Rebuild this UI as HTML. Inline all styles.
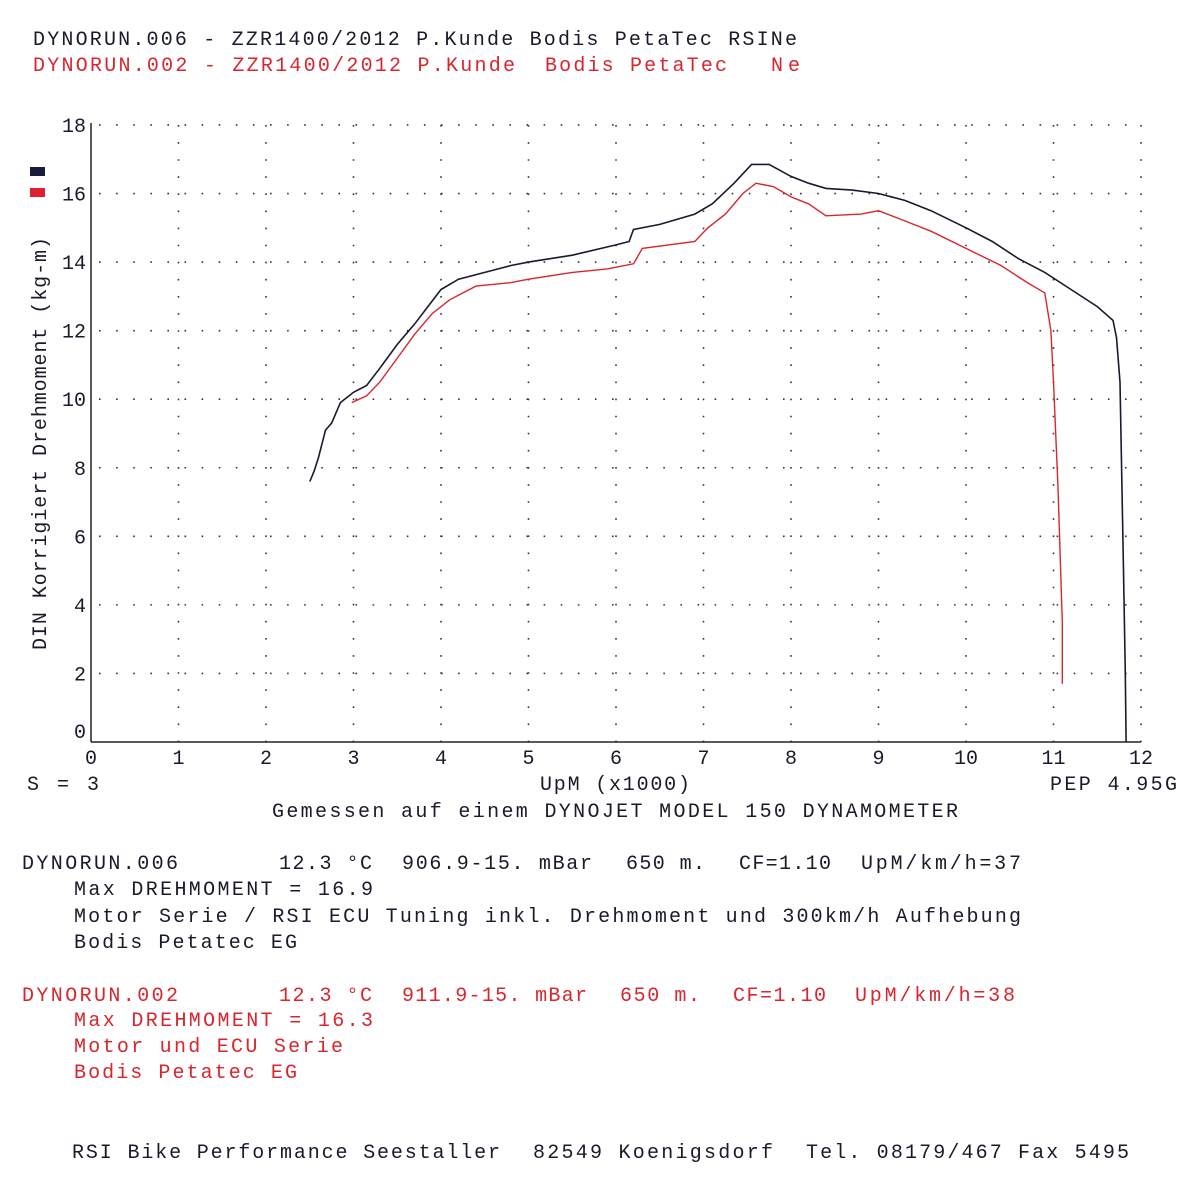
<!DOCTYPE html>
<html><head><meta charset="utf-8"><style>
html,body{margin:0;padding:0;background:#fff;}
svg text{font-family:"Liberation Mono","DejaVu Sans Mono",monospace;font-size:20px;}
.r{fill:#d8262e}.k{fill:#1a1a2a}
</style></head><body>
<svg id="s" width="1200" height="1195" xmlns="http://www.w3.org/2000/svg">
<rect width="1200" height="1195" fill="#fff"/>
<g class="k">
<text x="33" y="45" textLength="764" lengthAdjust="spacing">DYNORUN.006 - ZZR1400/2012 P.Kunde Bodis PetaTec RSINe</text>
</g>
<g class="r">
<text x="33" y="71" textLength="482" lengthAdjust="spacing">DYNORUN.002 - ZZR1400/2012 P.Kunde</text>
<text x="545" y="71" textLength="182" lengthAdjust="spacing">Bodis PetaTec</text>
<text x="771" y="71" textLength="29" lengthAdjust="spacing">Ne</text>
</g>
<g id="grid" stroke="#333" stroke-width="1.6" stroke-dasharray="1.6 15.5" fill="none"></g>
<g stroke="#222" stroke-width="1.5" fill="none">
<line x1="91" y1="123" x2="91" y2="742"/>
<line x1="91" y1="742" x2="1141" y2="742"/>
</g>
<g id="ticks" class="k"></g>
<text class="k" x="40" y="650" transform="rotate(-90 40 650)" textLength="413" lengthAdjust="spacing" dy="6">DIN Korrigiert Drehmoment (kg-m)</text>
<rect x="30" y="167" width="15" height="9" fill="#1a1a3a"/>
<rect x="30" y="188" width="15" height="9" fill="#e02030"/>
<path id="pk" fill="none" stroke="#1a1a2e" stroke-width="1.6"/>
<path id="pr" fill="none" stroke="#d8262e" stroke-width="1.4"/>
<g class="k">
<text x="27" y="790" textLength="72" lengthAdjust="spacing">S = 3</text>
<text x="540" y="790" textLength="150" lengthAdjust="spacing">UpM (x1000)</text>
<text x="1050" y="790" textLength="127" lengthAdjust="spacing">PEP 4.95G</text>
<text x="272" y="817" textLength="686" lengthAdjust="spacing">Gemessen auf einem DYNOJET MODEL 150 DYNAMOMETER</text>
<text x="22" y="869" textLength="156" lengthAdjust="spacing">DYNORUN.006</text>
<text x="279" y="869" textLength="93" lengthAdjust="spacing">12.3 °C</text>
<text x="402" y="869" textLength="190" lengthAdjust="spacing">906.9-15. mBar</text>
<text x="626" y="869" textLength="79" lengthAdjust="spacing">650 m.</text>
<text x="739" y="869" textLength="92" lengthAdjust="spacing">CF=1.10</text>
<text x="861" y="869" textLength="160" lengthAdjust="spacing">UpM/km/h=37</text>
<text x="74" y="895" textLength="299" lengthAdjust="spacing">Max DREHMOMENT = 16.9</text>
<text x="74" y="922" textLength="947" lengthAdjust="spacing">Motor Serie / RSI ECU Tuning inkl. Drehmoment und 300km/h Aufhebung</text>
<text x="74" y="948" textLength="223" lengthAdjust="spacing">Bodis Petatec EG</text>
<text x="72" y="1158" textLength="428" lengthAdjust="spacing">RSI Bike Performance Seestaller</text>
<text x="533" y="1158" textLength="240" lengthAdjust="spacing">82549 Koenigsdorf</text>
<text x="806" y="1158" textLength="323" lengthAdjust="spacing">Tel. 08179/467 Fax 5495</text>
</g>
<g class="r">
<text x="22" y="1001" textLength="156" lengthAdjust="spacing">DYNORUN.002</text>
<text x="279" y="1001" textLength="93" lengthAdjust="spacing">12.3 °C</text>
<text x="402" y="1001" textLength="185" lengthAdjust="spacing">911.9-15. mBar</text>
<text x="620" y="1001" textLength="80" lengthAdjust="spacing">650 m.</text>
<text x="733" y="1001" textLength="93" lengthAdjust="spacing">CF=1.10</text>
<text x="855" y="1001" textLength="160" lengthAdjust="spacing">UpM/km/h=38</text>
<text x="74" y="1026" textLength="299" lengthAdjust="spacing">Max DREHMOMENT = 16.3</text>
<text x="74" y="1052" textLength="269" lengthAdjust="spacing">Motor und ECU Serie</text>
<text x="74" y="1078" textLength="223" lengthAdjust="spacing">Bodis Petatec EG</text>
</g>
</svg>
<script>
var NS="http://www.w3.org/2000/svg";
function X(r){return 91+87.5*r;} function Y(v){return 742-34.28*v;}
var g=document.getElementById("grid"),t=document.getElementById("ticks");
function el(p,tag,a,txt){var e=document.createElementNS(NS,tag);for(var k in a)e.setAttribute(k,a[k]);if(txt!=null)e.textContent=txt;p.appendChild(e);return e;}
for(var i=1;i<=12;i++){el(g,"line",{x1:X(i),y1:125,x2:X(i),y2:742});}
for(var v=2;v<=18;v+=2){el(g,"line",{x1:99,y1:Y(v),x2:1141,y2:Y(v)});}
for(var i=0;i<=12;i++){el(t,"text",{x:X(i),y:764,"text-anchor":"middle"},String(i));}
for(var v=0;v<=18;v+=2){var yy=(v==0)?738:Y(v)+7;el(t,"text",{x:86,y:yy,"text-anchor":"end"},String(v));}
var K=[[2.5,7.6],[2.55,7.9],[2.6,8.3],[2.68,9.1],[2.75,9.3],[2.85,9.9],[3.0,10.2],[3.15,10.4],[3.3,10.9],[3.5,11.6],[3.7,12.2],[3.85,12.7],[4.0,13.2],[4.2,13.5],[4.5,13.7],[4.8,13.9],[5.0,14.0],[5.5,14.2],[6.0,14.5],[6.15,14.6],[6.2,14.95],[6.5,15.1],[6.9,15.4],[7.1,15.7],[7.35,16.3],[7.55,16.85],[7.75,16.85],[8.0,16.5],[8.2,16.3],[8.4,16.15],[8.7,16.1],[9.0,16.0],[9.3,15.8],[9.6,15.5],[10.0,15.0],[10.3,14.6],[10.6,14.1],[10.9,13.7],[11.2,13.2],[11.5,12.7],[11.68,12.3],[11.72,11.8],[11.76,10.5],[11.8,5],[11.82,2],[11.83,0]];
var R=[[2.98,9.9],[3.15,10.1],[3.3,10.5],[3.5,11.2],[3.7,11.9],[3.9,12.5],[4.1,12.9],[4.4,13.3],[4.8,13.4],[5.0,13.5],[5.5,13.7],[5.9,13.8],[6.2,13.95],[6.3,14.4],[6.6,14.5],[6.9,14.6],[7.05,15.0],[7.25,15.4],[7.45,16.0],[7.6,16.3],[7.8,16.2],[8.0,15.9],[8.2,15.7],[8.4,15.35],[8.8,15.4],[9.0,15.5],[9.3,15.2],[9.6,14.9],[10.0,14.4],[10.4,13.9],[10.7,13.4],[10.9,13.1],[10.97,12.0],[11.0,10.5],[11.05,7.5],[11.1,3.5],[11.1,1.7]];
function P(a){return a.map(function(p,i){return (i?"L":"M")+X(p[0]).toFixed(1)+","+Y(p[1]).toFixed(1);}).join("");}
document.getElementById("pk").setAttribute("d",P(K));
document.getElementById("pr").setAttribute("d",P(R));
</script>
</body></html>
